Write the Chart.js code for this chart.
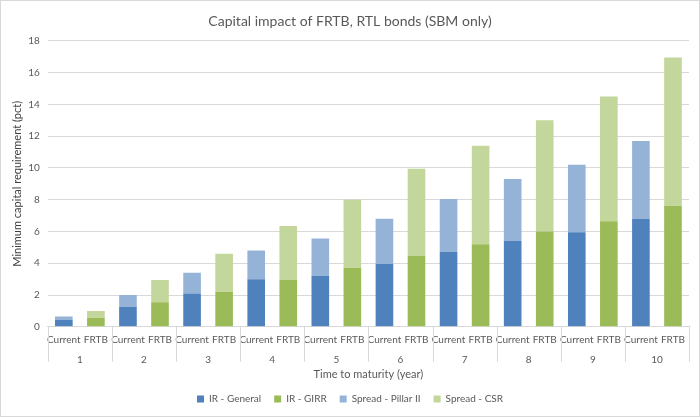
<!DOCTYPE html>
<html>
<head>
<meta charset="utf-8">
<script src="https://cdn.jsdelivr.net/npm/chart.js@4/dist/chart.umd.min.js"></script>
<style>
  html, body { margin: 0; padding: 0; background: #fff; }
  #wrap { width: 698px; height: 415px; border: 1px solid #d9d9d9; position: relative; }
</style>
</head>
<body>
<div id="wrap"><canvas id="c"></canvas></div>
<script>
const years = ['1','2','3','4','5','6','7','8','9','10'];
const subLabels = ['Current', 'FRTB'];
const irGeneral   = [0.45, 1.25, 2.1, 3.0, 3.2, 3.95, 4.7, 5.4, 5.95, 6.8];
const pillarII    = [0.2, 0.75, 1.3, 1.8, 2.35, 2.85, 3.35, 3.9, 4.25, 4.9];
const irGirr      = [0.55, 1.55, 2.2, 2.95, 3.7, 4.45, 5.2, 6.0, 6.65, 7.6];
const spreadCsr   = [0.45, 1.4, 2.4, 3.4, 4.3, 5.5, 6.2, 7.0, 7.85, 9.35];
const yTicks = [0, 2, 4, 6, 8, 10, 12, 14, 16, 18];

const labels = [];
years.forEach(() => subLabels.forEach(s => labels.push(s)));
function spread(vals, slot) {
  const out = [];
  vals.forEach(v => { out.push(slot === 0 ? v : null); out.push(slot === 1 ? v : null); });
  return out;
}

const FONT = 'Lato, "Open Sans", sans-serif';
Chart.defaults.font.family = FONT;
Chart.defaults.color = '#595959';

const separators = {
  id: 'separators',
  afterDraw(chart) {
    const xs = chart.scales.x, x2 = chart.scales.x2;
    const ctx = chart.ctx;
    ctx.save();
    ctx.strokeStyle = '#d9d9d9';
    ctx.lineWidth = 1;
    const n = years.length;
    const yEnd = x2.top + 9;
    for (let i = 0; i <= n; i++) {
      let px;
      if (i === 0) px = xs.left;
      else if (i === n) px = xs.right;
      else px = (xs.getPixelForTick(2 * i - 1) + xs.getPixelForTick(2 * i)) / 2;
      px = Math.round(px) + 0.5;
      ctx.beginPath();
      ctx.moveTo(px, xs.top);
      ctx.lineTo(px, yEnd);
      ctx.stroke();
    }
    ctx.restore();
  }
};

new Chart(document.getElementById('c'), {
  type: 'bar',
  data: {
    labels: labels,
    datasets: [
      { label: 'IR - General', data: spread(irGeneral, 0), backgroundColor: '#4f81bd', borderWidth: 0 },
      { label: 'IR - GIRR', data: spread(irGirr, 1), backgroundColor: '#9bbb59', borderWidth: 0 },
      { label: 'Spread - Pillar II', data: spread(pillarII, 0), backgroundColor: '#95b3d7', borderWidth: 0 },
      { label: 'Spread - CSR', data: spread(spreadCsr, 1), backgroundColor: '#c3d69b', borderWidth: 0 }
    ]
  },
  options: {
    responsive: true,
    maintainAspectRatio: false,
    animation: false,
    layout: { padding: { left: 10, right: 10, top: 6, bottom: 2 } },
    datasets: { bar: { categoryPercentage: 1.0, barPercentage: 0.55, skipNull: false } },
    plugins: {
      title: {
        display: true,
        text: 'Capital impact of FRTB, RTL bonds (SBM only)',
        color: '#595959',
        font: { size: 14, weight: 'normal', family: FONT },
        padding: { top: 6, bottom: 11 }
      },
      legend: {
        position: 'bottom',
        labels: {
          usePointStyle: true,
          pointStyle: 'rect',
          boxWidth: 7,
          boxHeight: 7,
          padding: 13,
          color: '#595959',
          font: { size: 10, family: FONT }
        }
      },
      tooltip: { enabled: false }
    },
    scales: {
      x: {
        stacked: true,
        grid: { display: false, drawTicks: false },
        border: { display: true, color: '#d9d9d9' },
        ticks: { color: '#595959', font: { size: 10 }, maxRotation: 0, autoSkip: false, padding: 7 }
      },
      x2: {
        type: 'category',
        position: 'bottom',
        labels: years,
        offset: true,
        grid: { display: false, drawTicks: false },
        border: { display: false },
        ticks: { color: '#595959', font: { size: 10 }, padding: 1 },
        title: { display: true, text: 'Time to maturity (year)', color: '#595959', font: { size: 11 }, padding: { top: 1, bottom: 0 } }
      },
      y: {
        stacked: true,
        min: 0,
        max: 18,
        afterBuildTicks(scale) { scale.ticks = yTicks.map(v => ({ value: v })); },
        grid: { color: '#d9d9d9', drawTicks: false },
        border: { display: false },
        ticks: { color: '#595959', font: { size: 10 }, padding: 8 },
        title: { display: true, text: 'Minimum capital requirement (pct)', color: '#404040', font: { size: 11 }, padding: { top: 0, bottom: -4 } }
      }
    }
  },
  plugins: [separators]
});
</script>
</body>
</html>
